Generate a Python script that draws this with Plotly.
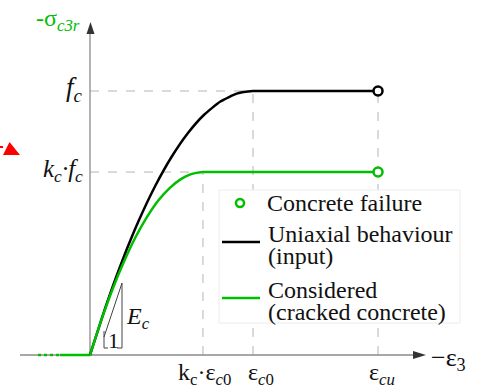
import plotly.graph_objects as go

# ---------------- data (normalised: eps_c0 = 1, f_c = 1) ----------------
fc = 1.0
kc = 0.693
eps_c0 = 1.0
eps_cu = 1.767

uni_strain = [0.0, 0.1, 0.2, 0.3, 0.4, 0.5, 0.6, 0.7, 0.8, 0.9, 1.0, 1.05, 1.767]
uni_stress = [0.0, 0.19, 0.36, 0.51, 0.64, 0.75, 0.84, 0.91, 0.96, 0.99, 1.0, 1.0, 1.0]

cr_strain = [0.0, 0.07, 0.14, 0.21, 0.28, 0.35, 0.42, 0.49, 0.56, 0.62, 0.693, 0.73, 1.767]
cr_stress = [0.0, 0.133, 0.252, 0.356, 0.447, 0.523, 0.586, 0.633, 0.667, 0.685, 0.693, 0.693, 0.693]

tension_solid_x = [-0.184, 0.0]
tension_solid_y = [0.0, 0.0]
tension_dot_x = [-0.319, -0.184]
tension_dot_y = [0.0, 0.0]

fail_x = [eps_cu, eps_cu]
fail_y = [fc, kc * fc]

# ---------------- pixel helpers for decorations ----------------
W, H = 487, 388
OX, OY = 90, 355
SX, SY = 163.0, 264.0


def X(px):
    return (px - OX) / SX


def Y(py):
    return (OY - py) / SY


GREEN = "rgb(0,190,0)"
FONT = "Times New Roman, Liberation Serif, DejaVu Serif, serif"

fig = go.Figure()

fig.add_trace(go.Scatter(x=tension_dot_x, y=tension_dot_y, mode="lines",
                         line=dict(color=GREEN, width=2.5, dash="dot"), hoverinfo="skip"))
fig.add_trace(go.Scatter(x=tension_solid_x, y=tension_solid_y, mode="lines",
                         line=dict(color=GREEN, width=2.5), hoverinfo="skip"))
fig.add_trace(go.Scatter(x=uni_strain, y=uni_stress, mode="lines",
                         line=dict(color="black", width=2.5, shape="spline", smoothing=0.5)))
fig.add_trace(go.Scatter(x=cr_strain, y=cr_stress, mode="lines",
                         line=dict(color=GREEN, width=2.5, shape="spline", smoothing=0.5)))
fig.add_trace(go.Scatter(x=fail_x, y=fail_y, mode="markers",
                         marker=dict(size=9, color="white", symbol="circle",
                                     line=dict(color=["black", GREEN], width=2.5))))

shapes = []
dash = dict(color="#b4b4b4", width=1, dash="dash")
# reference lines
shapes.append(dict(type="line", xref="x", yref="y", x0=0, x1=eps_c0, y0=fc, y1=fc, line=dash, layer="below"))
shapes.append(dict(type="line", xref="x", yref="y", x0=0, x1=kc * eps_c0, y0=kc * fc, y1=kc * fc, line=dash, layer="below"))
shapes.append(dict(type="line", xref="x", yref="y", x0=eps_c0, x1=eps_c0, y0=0, y1=fc, line=dash, layer="below"))
shapes.append(dict(type="line", xref="x", yref="y", x0=kc * eps_c0, x1=kc * eps_c0, y0=0, y1=kc * fc, line=dash, layer="below"))
shapes.append(dict(type="line", xref="x", yref="y", x0=eps_cu, x1=eps_cu, y0=0, y1=fc, line=dash, layer="below"))

# legend box
shapes.append(dict(type="rect", xref="x", yref="y", x0=X(219), x1=X(460), y0=Y(190), y1=Y(323),
                   fillcolor="white", line=dict(color="#ececec", width=1), layer="below"))
shapes.append(dict(type="line", xref="x", yref="y", x0=X(222), x1=X(260), y0=Y(242), y1=Y(242),
                   line=dict(color="black", width=2.5)))
shapes.append(dict(type="line", xref="x", yref="y", x0=X(222), x1=X(260), y0=Y(298), y1=Y(298),
                   line=dict(color=GREEN, width=2.5)))

# axes
axc = "#8a8a8a"
shapes.append(dict(type="line", xref="x", yref="y", x0=X(20), x1=X(415), y0=0, y1=0,
                   line=dict(color=axc, width=1.3), layer="below"))
shapes.append(dict(type="line", xref="x", yref="y", x0=0, x1=0, y0=0, y1=Y(30),
                   line=dict(color=axc, width=1.3), layer="below"))


def path(pts):
    s = "M " + " L ".join(f"{X(a):.5f},{Y(b):.5f}" for a, b in pts) + " Z"
    return s


shapes.append(dict(type="path", xref="x", yref="y", path=path([(90.5, 22), (86.5, 34), (94.5, 34)]),
                   fillcolor="#333", line=dict(width=0)))
shapes.append(dict(type="path", xref="x", yref="y", path=path([(426, 355), (413, 351), (413, 359)]),
                   fillcolor="#333", line=dict(width=0)))

# red marker (partial) at left edge
shapes.append(dict(type="path", xref="x", yref="y", path=path([(3, 155), (9.5, 142), (20, 155)]),
                   fillcolor="red", line=dict(width=0)))
shapes.append(dict(type="line", xref="x", yref="y", x0=X(0), x1=X(3), y0=Y(147), y1=Y(147),
                   line=dict(color="red", width=2)))

# Ec slope triangle
tri = dict(color="#444", width=1)
shapes.append(dict(type="line", xref="x", yref="y", x0=X(104), x1=X(122), y0=Y(337), y1=Y(283), line=tri))
shapes.append(dict(type="line", xref="x", yref="y", x0=X(122), x1=X(122), y0=Y(283), y1=Y(348), line=tri))
shapes.append(dict(type="line", xref="x", yref="y", x0=X(104), x1=X(104), y0=Y(331), y1=Y(348), line=tri))
shapes.append(dict(type="line", xref="x", yref="y", x0=X(104), x1=X(108), y0=Y(348), y1=Y(348), line=tri))
shapes.append(dict(type="line", xref="x", yref="y", x0=X(117), x1=X(122), y0=Y(348), y1=Y(348), line=tri))

ann = []


def txt(px, py, text, size=21, color="#111", xanchor="center", yanchor="middle"):
    ann.append(dict(x=X(px), y=Y(py), xref="x", yref="y", text=text, showarrow=False,
                    font=dict(family=FONT, size=size, color=color),
                    xanchor=xanchor, yanchor=yanchor))


txt(34, 20, "-σ<sub><i>c3r</i></sub>", size=24, color=GREEN, xanchor="left")
txt(85, 89, "<i>f<sub>c</sub></i>", size=27, xanchor="right")
txt(85, 170, "<i>k<sub>c</sub>·f<sub>c</sub></i>", size=25, xanchor="right")
txt(176, 374, "k<sub>c</sub>·ε<sub><i>c</i>0</sub>", size=24, xanchor="left")
txt(246, 374, "ε<sub><i>c</i>0</sub>", size=24, xanchor="left")
txt(367, 374, "ε<sub><i>cu</i></sub>", size=24, xanchor="left")
txt(429, 359, "−ε<sub>3</sub>", size=26, xanchor="left")
txt(124, 318, "<i>E<sub>c</sub></i>", size=24, xanchor="left")
txt(113, 340, "1", size=22)

txt(265, 203, "Concrete failure", size=24, xanchor="left")
txt(266, 234, "Uniaxial behaviour", size=24, xanchor="left")
txt(266, 256, "(input)", size=24, xanchor="left")
txt(266, 290, "Considered", size=24, xanchor="left")
txt(266, 312, "(cracked concrete)", size=24, xanchor="left")

# legend marker sample
fig.add_trace(go.Scatter(x=[X(240)], y=[Y(203)], mode="markers",
                         marker=dict(size=8, color="white", line=dict(color=GREEN, width=2.5)),
                         hoverinfo="skip"))

fig.update_layout(
    width=W, height=H,
    margin=dict(l=0, r=0, t=0, b=0),
    paper_bgcolor="white", plot_bgcolor="white",
    showlegend=False,
    shapes=shapes, annotations=ann,
    xaxis=dict(range=[X(0), X(W)], visible=False, fixedrange=True),
    yaxis=dict(range=[Y(H), Y(0)], visible=False, fixedrange=True),
)

fig.write_html("out.html", config={"displayModeBar": False},
               post_script="document.body.style.margin='0';document.body.style.overflow='hidden';")
